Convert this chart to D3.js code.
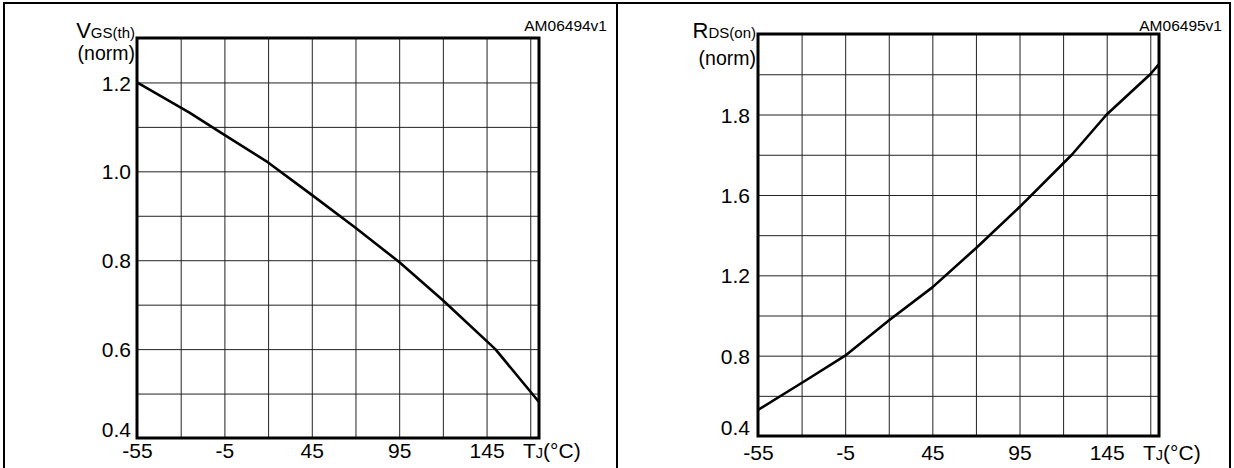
<!DOCTYPE html>
<html>
<head>
<meta charset="utf-8">
<script src="https://cdn.jsdelivr.net/npm/d3@7"></script>
<style>
  body { margin: 0; background: #fff; }
  text { font-family: Arial, "Liberation Sans", Helvetica, sans-serif; fill: #000; }
</style>
</head>
<body>
<div id="chart"></div>
<script>
"use strict";
// temperature axis, shared by both panels
const tempGrid = [-30, -5, 20, 45, 70, 95, 120, 145, 170];
const tempTicks = [-55, -5, 45, 95, 145];

// left panel: normalized gate threshold voltage vs Tj
const vgsTemps = [-55, -25, -5, 20, 45, 70, 95, 120, 150, 175];
const vgsValues = [1.2, 1.132, 1.082, 1.02, 0.947, 0.873, 0.796, 0.71, 0.60, 0.481];
const vgsGrid = [0.5, 0.6, 0.7, 0.8, 0.9, 1.0, 1.1, 1.2];
const vgsTicks = [0.4, 0.6, 0.8, 1.0, 1.2];

// right panel: normalized on-resistance vs Tj
const rdsTemps = [-55, -27, -5, 20, 45, 70, 95, 125, 145, 170, 175];
const rdsValues = [0.53, 0.68, 0.80, 0.975, 1.14, 1.335, 1.54, 1.70, 1.80, 1.90, 1.925];
const rdsGrid = [0.6, 0.8, 1.0, 1.2, 1.4, 1.6, 1.7, 1.8, 1.9];
const rdsTicks = [0.4, 0.8, 1.2, 1.6, 1.8];

const svg = d3.select('#chart').append('svg')
    .attr('width', 1234)
    .attr('height', 468);

const panel = (cfg) => {
    const g = svg.append('g');
    // outer box
    g.append('rect')
        .attr('x', cfg.boxX).attr('y', 3)
        .attr('width', cfg.boxW).attr('height', 480)
        .attr('fill', 'none').attr('stroke', '#000').attr('stroke-width', 2);

    const x = d3.scaleLinear().domain([-55, 175]).range([cfg.left, cfg.right]);
    const y = d3.scaleLinear().domain(cfg.yDomain).range(cfg.yRange);
    const h = cfg.bottom - cfg.top;
    const w = cfg.right - cfg.left;

    // grid lines
    const gx = g.append('g')
        .attr('transform', `translate(0,${cfg.bottom})`)
        .call(d3.axisBottom(x).tickValues(tempGrid).tickSize(-h).tickFormat(''));
    const gy = g.append('g')
        .attr('transform', `translate(${cfg.left},0)`)
        .call(d3.axisLeft(y).tickValues(cfg.grid).tickSize(-w).tickFormat(''));
    [gx, gy].forEach(a => {
        a.select('.domain').remove();
        a.selectAll('line').attr('stroke', '#222').attr('stroke-width', 1);
    });

    // tick labels
    const lx = g.append('g')
        .attr('transform', `translate(0,${cfg.bottom})`)
        .call(d3.axisBottom(x).tickValues(tempTicks).tickSize(0).tickFormat(d => d));
    lx.select('.domain').remove();
    lx.selectAll('text')
        .attr('y', cfg.xLabelY).attr('dy', 0)
        .style('font-size', '21px').attr('font-family', null);

    const ly = g.append('g')
        .attr('transform', `translate(${cfg.left},0)`)
        .call(d3.axisLeft(y).tickValues(cfg.ticks).tickSize(0).tickPadding(cfg.yPad).tickFormat(d3.format('.1f')));
    ly.select('.domain').remove();
    ly.selectAll('text')
        .attr('dy', d => d === 0.4 ? '-0.05em' : '0.36em')
        .style('font-size', '21px').attr('font-family', null);

    // curve
    const pts = cfg.temps.map((t, i) => ({ t, v: cfg.values[i] }));
    g.append('path')
        .datum(pts)
        .attr('fill', 'none')
        .attr('stroke', '#000')
        .attr('stroke-width', 2.6)
        .attr('stroke-linejoin', 'round')
        .attr('d', d3.line().x(d => x(d.t)).y(d => y(d.v)));

    // plot frame
    g.append('rect')
        .attr('x', cfg.left).attr('y', cfg.top)
        .attr('width', w).attr('height', h)
        .attr('fill', 'none').attr('stroke', '#000').attr('stroke-width', 3);

    // y title
    const t1 = g.append('text')
        .attr('x', cfg.left - 2).attr('y', 38)
        .attr('text-anchor', 'end');
    t1.append('tspan').style('font-size', '22px').text(cfg.sym);
    t1.append('tspan').style('font-size', '15px').text(cfg.sub);
    g.append('text')
        .attr('x', cfg.left - 2).attr('y', cfg.normY)
        .attr('text-anchor', 'end')
        .style('font-size', '19.5px')
        .text('(norm)');

    // x title
    const t2 = g.append('text')
        .attr('x', cfg.right - 16).attr('y', cfg.bottom + cfg.xLabelY);
    t2.append('tspan').style('font-size', '21px').text('T');
    t2.append('tspan').style('font-size', '14.5px').text('J');
    t2.append('tspan').style('font-size', '21px').text('(°C)');

    // figure code
    g.append('text')
        .attr('x', cfg.codeX).attr('y', 31)
        .attr('text-anchor', 'end')
        .style('font-size', '15.5px')
        .text(cfg.code);
};

panel({
    boxX: 4, boxW: 613,
    left: 137, right: 539, top: 38, bottom: 438,
    yDomain: [0.4, 1.3], yRange: [438, 38],
    grid: vgsGrid, ticks: vgsTicks,
    temps: vgsTemps, values: vgsValues,
    xLabelY: 20, yPad: 6, normY: 60,
    sym: 'V', sub: 'GS(th)',
    code: 'AM06494v1', codeX: 607
});

panel({
    boxX: 617, boxW: 613,
    left: 758, right: 1159, top: 34, bottom: 436,
    yDomain: [0.4, 1.6, 2.0], yRange: [436, 195, 34],
    grid: rdsGrid, ticks: rdsTicks,
    temps: rdsTemps, values: rdsValues,
    xLabelY: 24, yPad: 8, normY: 65,
    sym: 'R', sub: 'DS(on)',
    code: 'AM06495v1', codeX: 1222
});
</script>
</body>
</html>
